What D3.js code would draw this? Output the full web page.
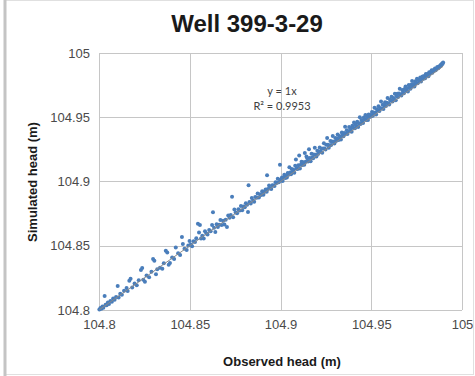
<!DOCTYPE html>
<html>
<head>
<meta charset="utf-8">
<script src="https://cdn.jsdelivr.net/npm/d3@7"></script>
<style>
  body { margin: 0; background: #fff; }
  svg { display: block; font-family: Arial, "Liberation Sans", sans-serif; }
</style>
</head>
<body>
<div id="chart"></div>
<script>
const title = "Well 399-3-29"
const xTitle = "Observed head (m)"
const yTitle = "Simulated head (m)"
const ticks = [104.8, 104.85, 104.9, 104.95, 105]
const tickLabels = ["104.8", "104.85", "104.9", "104.95", "105"]
const fitLabels = ["y = 1x", "R² = 0.9953"]

// observed / simulated heads (same row layout in both arrays)
const observed = [
  104.8002,104.8008,104.8013,104.8019,104.8024,104.8031,104.8036,104.8042,
  104.8049,104.8055,104.8063,104.8071,104.8078,104.8086,104.8094,104.8103,
  104.8108,104.8117,104.8126,104.8138,104.8152,104.8158,104.8167,104.8174,
  104.8183,104.8196,104.8208,104.8219,104.8231,104.8238,104.8244,104.8253,
  104.8262,104.8276,104.8289,104.8298,104.8305,104.8314,104.8321,104.8336,
  104.8349,104.8357,104.8368,104.8376,104.8384,104.8391,104.8403,104.8414,
  104.8423,104.8436,104.8447,104.8457,104.8462,104.8471,104.8483,104.8492,
  104.8499,104.8506,104.8513,104.8521,104.8529,104.8536,104.8545,104.8551,
  104.8556,104.8562,104.8569,104.8577,104.8584,104.8591,104.8598,104.8607,
  104.8615,104.8623,104.8628,104.8634,104.8641,104.8648,104.8655,104.8662,
  104.8669,104.8676,104.8684,104.8691,104.8698,104.8705,104.8712,104.8719,
  104.8726,104.8733,104.8739,104.8746,104.8753,104.8761,104.8768,104.8775,
  104.8782,104.8789,104.8796,104.8803,104.8809,104.8816,104.8821,104.8824,
  104.8829,104.8836,104.8842,104.8849,104.8855,104.8861,104.8868,104.8874,
  104.8881,104.8887,104.8893,104.8899,104.8906,104.8912,104.8918,104.8924,
  104.8926,104.8931,104.8937,104.8943,104.8949,104.8955,104.8961,104.8967,
  104.8973,104.8979,104.8985,104.8991,104.8997,104.8998,104.9003,104.9008,
  104.9012,104.9017,104.9021,104.9026,104.9031,104.9035,104.9040,104.9044,
  104.9049,104.9053,104.9058,104.9062,104.9067,104.9071,104.9076,104.9081,
  104.9085,104.9089,104.9094,104.9098,104.9103,104.9107,104.9112,104.9116,
  104.9121,104.9126,104.9131,104.9134,104.9139,104.9143,104.9148,104.9152,
  104.9157,104.9161,104.9166,104.9171,104.9175,104.9180,104.9184,104.9189,
  104.9193,104.9198,104.9203,104.9207,104.9212,104.9216,104.9221,104.9225,
  104.9230,104.9234,104.9239,104.9243,104.9248,104.9252,104.9257,104.9261,
  104.9266,104.9270,104.9275,104.9279,104.9284,104.9288,104.9293,104.9297,
  104.9302,104.9306,104.9311,104.9315,104.9320,104.9324,104.9329,104.9333,
  104.9338,104.9342,104.9347,104.9351,104.9356,104.9360,104.9365,104.9369,
  104.9374,104.9378,104.9383,104.9387,104.9392,104.9396,104.9401,104.9405,
  104.9410,104.9414,104.9419,104.9423,104.9428,104.9432,104.9437,104.9441,
  104.9446,104.9450,104.9455,104.9459,104.9464,104.9468,104.9473,104.9477,
  104.9482,104.9486,104.9491,104.9495,104.9500,104.9504,104.9509,104.9513,
  104.9518,104.9522,104.9527,104.9531,104.9536,104.9540,104.9545,104.9549,
  104.9554,104.9558,104.9563,104.9567,104.9572,104.9576,104.9581,104.9585,
  104.9590,104.9594,104.9599,104.9603,104.9608,104.9612,104.9617,104.9621,
  104.9626,104.9630,104.9635,104.9639,104.9644,104.9648,104.9653,104.9657,
  104.9662,104.9666,104.9671,104.9675,104.9680,104.9684,104.9689,104.9693,
  104.9698,104.9702,104.9707,104.9711,104.9716,104.9720,104.9725,104.9729,
  104.9734,104.9738,104.9743,104.9747,104.9752,104.9756,104.9761,104.9765,
  104.9770,104.9774,104.9779,104.9783,104.9788,104.9792,104.9797,104.9801,
  104.9806,104.9810,104.9815,104.9819,104.9824,104.9828,104.9833,104.9837,
  104.9842,104.9846,104.9851,104.9855,104.9860,104.9864,104.9869,104.9873,
  104.9878,104.9882,104.9886,104.9890,104.9893,104.9896
]
const simulated = [
  104.8004,104.8016,104.8009,104.8027,104.8018,104.8108,104.8041,104.8036,
  104.8058,104.8047,104.8071,104.8064,104.8089,104.8079,104.8102,104.8186,
  104.8097,104.8126,104.8118,104.8149,104.8171,104.8147,104.8228,104.8243,
  104.8176,104.8207,104.8193,104.8232,104.8311,104.8326,104.8236,104.8219,
  104.8268,104.8254,104.8297,104.8397,104.8384,104.8278,104.8318,104.8328,
  104.8321,104.8363,104.8462,104.8448,104.8352,104.8366,104.8409,104.8397,
  104.8487,104.8441,104.8428,104.8568,104.8514,104.8476,104.8467,104.8501,
  104.8536,104.8509,104.8496,104.8535,104.8530,104.8558,104.8672,104.8603,
  104.8661,104.8556,104.8578,104.8556,104.8612,104.8595,104.8587,104.8623,
  104.8612,104.8661,104.8761,104.8641,104.8607,104.8667,104.8646,104.8664,
  104.8701,104.8661,104.8695,104.8665,104.8703,104.8646,104.8736,104.8717,
  104.8739,104.8881,104.8721,104.8782,104.8759,104.8753,104.8785,104.8775,
  104.8809,104.8777,104.8805,104.8799,104.8830,104.8819,104.8762,104.8971,
  104.8841,104.8829,104.8871,104.8850,104.8842,104.8879,104.8874,104.8907,
  104.8876,104.8901,104.8895,104.8924,104.8897,104.8920,104.8937,104.8921,
  104.9049,104.8942,104.8968,104.8947,104.8942,104.8971,104.8968,104.8965,
  104.8995,104.8989,104.9021,104.8994,104.9131,104.9013,104.9008,104.9031,
  104.9004,104.9031,104.9052,104.9028,104.9042,104.9031,104.9067,104.9053,
  104.9111,104.9070,104.9056,104.9097,104.9073,104.9091,104.9069,104.9122,
  104.9171,104.9102,104.9097,104.9127,104.9202,104.9102,104.9130,104.9154,
  104.9129,104.9150,104.9130,104.9221,104.9154,104.9195,104.9181,104.9156,
  104.9251,104.9182,104.9157,104.9215,104.9187,104.9181,104.9210,104.9262,
  104.9209,104.9195,104.9240,104.9214,104.9231,104.9264,104.9231,104.9255,
  104.9224,104.9256,104.9297,104.9257,104.9250,104.9286,104.9338,104.9286,
  104.9262,104.9281,104.9315,104.9285,104.9312,104.9354,104.9310,104.9295,
  104.9338,104.9315,104.9334,104.9366,104.9323,104.9355,104.9342,104.9326,
  104.9381,104.9362,104.9352,104.9378,104.9426,104.9372,104.9398,104.9370,
  104.9392,104.9424,104.9391,104.9412,104.9387,104.9434,104.9416,104.9460,
  104.9414,104.9443,104.9429,104.9465,104.9425,104.9453,104.9500,104.9448,
  104.9478,104.9464,104.9456,104.9498,104.9483,104.9517,104.9479,104.9503,
  104.9478,104.9521,104.9502,104.9517,104.9508,104.9541,104.9511,104.9537,
  104.9574,104.9535,104.9522,104.9562,104.9553,104.9585,104.9549,104.9571,
  104.9622,104.9568,104.9597,104.9565,104.9591,104.9617,104.9588,104.9612,
  104.9650,104.9608,104.9600,104.9639,104.9629,104.9660,104.9622,104.9650,
  104.9638,104.9683,104.9632,104.9663,104.9683,104.9657,104.9684,104.9721,
  104.9678,104.9669,104.9713,104.9695,104.9687,104.9719,104.9739,104.9706,
  104.9725,104.9701,104.9751,104.9729,104.9722,104.9752,104.9782,104.9740,
  104.9759,104.9740,104.9781,104.9762,104.9799,104.9764,104.9789,104.9784,
  104.9810,104.9778,104.9802,104.9817,104.9800,104.9821,104.9804,104.9837,
  104.9824,104.9836,104.9820,104.9850,104.9838,104.9850,104.9866,104.9846,
  104.9866,104.9862,104.9879,104.9866,104.9880,104.9891,104.9882,104.9895,
  104.9895,104.9907,104.9905,104.9918,104.9917,104.9926
]

const width = 475, height = 376
const margin = {top: 53, right: 13, bottom: 66, left: 99}

const svg = d3.select("#chart").append("svg")
  .attr("width", width)
  .attr("height", height)

// outer chart frame
svg.append("rect")
  .attr("x", 5.5).attr("y", 0.5)
  .attr("width", 468).attr("height", 374)
  .attr("fill", "#fff")
  .attr("stroke", "#e0e0e0")
svg.append("line")
  .attr("x1", 5).attr("x2", 5).attr("y1", 0).attr("y2", 376)
  .attr("stroke", "#c4c4c4").attr("stroke-width", 3)

const x = d3.scaleLinear().domain([104.8, 105]).range([margin.left, width - margin.right])
const y = d3.scaleLinear().domain([104.8, 105]).range([height - margin.bottom, margin.top])

// gridlines
svg.append("g")
  .selectAll("line")
  .data(ticks)
  .enter().append("line")
  .attr("x1", d => Math.round(x(d)) + 0.5).attr("x2", d => Math.round(x(d)) + 0.5)
  .attr("y1", y(104.8)).attr("y2", y(105))
  .attr("stroke", "#c6c6c6")
svg.append("g")
  .selectAll("line")
  .data(ticks)
  .enter().append("line")
  .attr("y1", d => Math.round(y(d)) + 0.5).attr("y2", d => Math.round(y(d)) + 0.5)
  .attr("x1", x(104.8)).attr("x2", x(105))
  .attr("stroke", "#c6c6c6")

// axes (labels only, Excel style)
const xAxis = svg.append("g")
  .attr("transform", `translate(0, ${height - margin.bottom})`)
  .call(d3.axisBottom(x).tickValues(ticks).tickFormat((d, i) => tickLabels[i]).tickSize(0).tickPadding(10))
const yAxis = svg.append("g")
  .attr("transform", `translate(${margin.left}, 0)`)
  .call(d3.axisLeft(y).tickValues(ticks).tickFormat((d, i) => tickLabels[i]).tickSize(0).tickPadding(9))
;[xAxis, yAxis].forEach(a => {
  a.select(".domain").remove()
  a.selectAll("text")
    .attr("font-size", 13)
    .attr("font-family", "Arial, 'Liberation Sans', sans-serif")
    .attr("fill", "#4a4a4a")
})

const points = observed.map((d, i) => ({obs: d, sim: simulated[i]}))

svg.append("g")
  .selectAll("circle")
  .data(points)
  .enter().append("circle")
  .attr("cx", d => x(d.obs))
  .attr("cy", d => y(d.sim))
  .attr("r", 2)
  .attr("fill", "#4a7ebb")

// linear trendline y = 1x
const xMin = d3.min(observed), xMax = d3.max(observed)
svg.append("line")
  .attr("x1", x(xMin)).attr("y1", y(xMin))
  .attr("x2", x(xMax)).attr("y2", y(xMax))
  .attr("stroke", "#8a8a8a")
  .attr("stroke-width", 1)

svg.append("g")
  .selectAll("text")
  .data(fitLabels)
  .enter().append("text")
  .attr("x", 282)
  .attr("y", (d, i) => 95 + i * 15)
  .attr("text-anchor", "middle")
  .attr("font-family", "Lato, 'Open Sans', sans-serif")
  .attr("font-size", 11)
  .attr("fill", "#404040")
  .text(d => d)

svg.append("text")
  .attr("x", 247).attr("y", 32)
  .attr("text-anchor", "middle")
  .attr("font-size", 24)
  .attr("font-weight", "bold")
  .attr("fill", "#1a1a1a")
  .text(title)

svg.append("text")
  .attr("x", 282).attr("y", 366)
  .attr("text-anchor", "middle")
  .attr("font-size", 13)
  .attr("font-weight", "bold")
  .attr("fill", "#1a1a1a")
  .text(xTitle)

svg.append("text")
  .attr("transform", "translate(37, 182) rotate(-90)")
  .attr("text-anchor", "middle")
  .attr("font-size", 13)
  .attr("font-weight", "bold")
  .attr("fill", "#1a1a1a")
  .text(yTitle)
</script>
</body>
</html>
